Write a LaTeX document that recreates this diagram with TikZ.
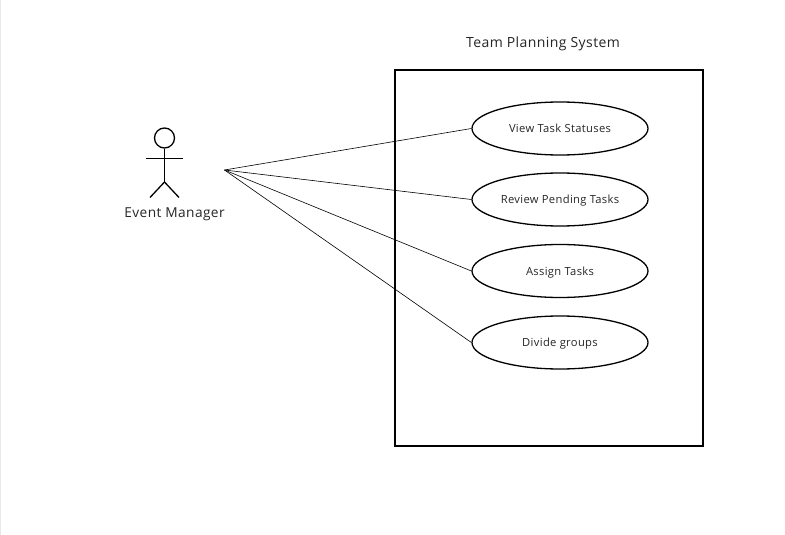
\documentclass[tikz,border=0pt]{standalone}
\usepackage{fontspec}
\setmainfont[LetterSpace=3]{Open Sans}
\usetikzlibrary{shapes.geometric}
\tikzset{
  usecase/.style={ellipse,draw=black,line width=1.3pt,minimum width=176pt,minimum height=53pt,inner sep=0pt,font=\fontsize{11.2pt}{13pt}\selectfont,text=black!85,text depth=0pt,yshift=0pt},
  thinline/.style={draw=black,line width=0.6pt},
  figure/.style={draw=black,line width=1.3pt},
  bigtext/.style={font=\fontsize{14pt}{16pt}\selectfont,text=black!85,inner sep=0pt}
}
\begin{document}
\begin{tikzpicture}[x=1pt,y=-1pt]
\useasboundingbox (0,0) rectangle (785,535);
\fill[black!9] (0,0) rectangle (1,535);
\node[draw=black,line width=1.45pt,minimum width=308pt,minimum height=376pt,inner sep=0pt] (sys) at (548.8,258) {};
\node[bigtext] (title) at (543,43.5) {Team Planning System};
\node[usecase] (u1) at (560,128.5) {View Task Statuses};
\node[usecase] (u2) at (560,199.5) {Review Pending Tasks};
\node[usecase] (u3) at (560,271) {Assign Tasks};
\node[usecase] (u4) at (560,342.5) {Divide groups};
\node[circle,figure,minimum size=20pt,inner sep=0pt] (head) at (164.5,138) {};
\coordinate (hip) at (164.5,182);
\coordinate (armL) at (146,158.5);
\coordinate (armR) at (183,158.5);
\coordinate (footL) at (150,197.5);
\coordinate (footR) at (179,197.5);
\draw[figure] (head.south) -- (hip);
\draw[figure] (armL) -- (armR);
\draw[figure] (footL) -- (hip) -- (footR);
\node[bigtext,font=\fontsize{13.7pt}{16pt}\selectfont] (actor) at (174.5,214) {Event Manager};
\coordinate (src) at (224.5,170);
\draw[thinline] (src) -- (u1.180);
\draw[thinline] (src) -- (u2.180);
\draw[thinline] (src) -- (u3.180);
\draw[thinline] (src) -- (u4.180);
\end{tikzpicture}
\end{document}
